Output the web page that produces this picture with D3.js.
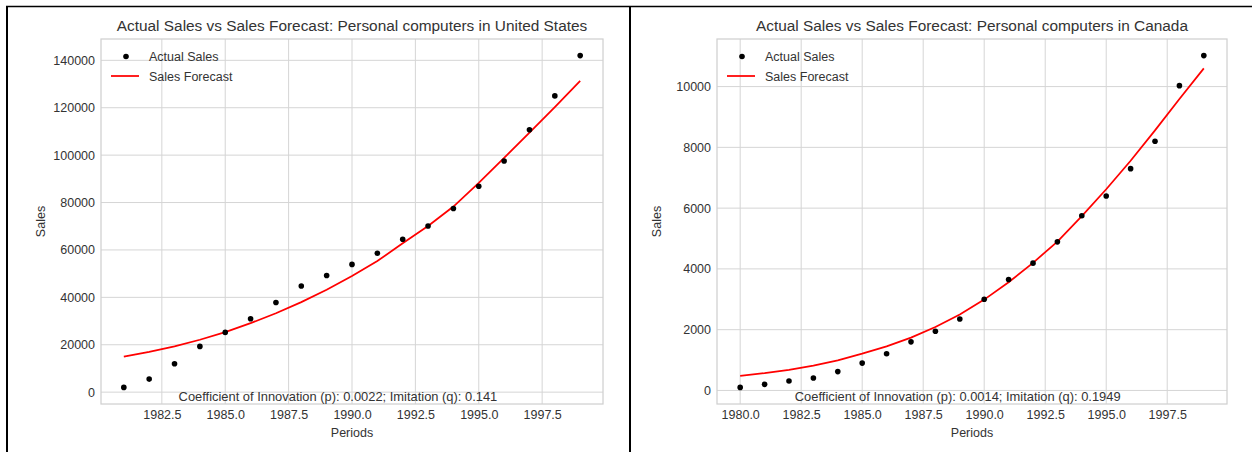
<!DOCTYPE html>
<html>
<head>
<meta charset="utf-8">
<script src="https://cdn.jsdelivr.net/npm/d3@7"></script>
<style>
  html, body { margin: 0; padding: 0; background: #fff; }
  svg { display: block; }
  text { font-family: "Liberation Sans", Arial, Helvetica, sans-serif; fill: #333; }
</style>
</head>
<body>
<svg id="chart" width="1252" height="452"></svg>
<script>
// United States: yearly personal computer sales and Bass model forecast
const usYears = [1981, 1982, 1983, 1984, 1985, 1986, 1987, 1988, 1989, 1990,
                 1991, 1992, 1993, 1994, 1995, 1996, 1997, 1998, 1999];
const usActual = [2000, 5500, 12000, 19300, 25200, 31000, 37800, 44800, 49200, 53900,
                  58600, 64500, 70100, 77500, 86900, 97500, 110700, 125000, 142000];
const usForecast = [15000, 17000, 19300, 22100, 25300, 29100, 33300, 38000, 43200, 49000,
                    55300, 62800, 70100, 78300, 88300, 98800, 109500, 120300, 131300];
const usTicksY = [0, 20000, 40000, 60000, 80000, 100000, 120000, 140000];
const usTicksX = [1982.5, 1985.0, 1987.5, 1990.0, 1992.5, 1995.0, 1997.5];

// Canada: yearly personal computer sales and Bass model forecast
const caYears = [1980, 1981, 1982, 1983, 1984, 1985, 1986, 1987, 1988, 1989,
                 1990, 1991, 1992, 1993, 1994, 1995, 1996, 1997, 1998, 1999];
const caActual = [100, 200, 310, 410, 620, 900, 1210, 1600, 1950, 2350,
                  3000, 3650, 4190, 4890, 5750, 6400, 7300, 8200, 10030, 11020];
const caForecast = [480, 570, 680, 820, 990, 1210, 1450, 1740, 2090, 2500,
                    2990, 3560, 4200, 4900, 5740, 6620, 7560, 8560, 9590, 10600];
const caTicksY = [0, 2000, 4000, 6000, 8000, 10000];
const caTicksX = [1980.0, 1982.5, 1985.0, 1987.5, 1990.0, 1992.5, 1995.0, 1997.5];

const legendLabels = ["Actual Sales", "Sales Forecast"];

const svg = d3.select("#chart");

// cell borders around the two panels
const border = svg.append("g").attr("stroke", "#000").attr("fill", "none");
border.append("line").attr("x1", 6).attr("x2", 1252).attr("y1", 6.5).attr("y2", 6.5).attr("stroke-width", 1.5);
border.append("line").attr("x1", 7).attr("x2", 7).attr("y1", 6).attr("y2", 452).attr("stroke-width", 2);
border.append("line").attr("x1", 630).attr("x2", 630).attr("y1", 6).attr("y2", 452).attr("stroke-width", 2);

function padded(values, frac) {
  const [lo, hi] = d3.extent(values);
  const p = (hi - lo) * frac;
  return [lo - p, hi + p];
}

function drawPanel(opts) {
  const { left, right, top, bottom, years, actual, forecast, ticksX, ticksY, title, note } = opts;
  const g = svg.append("g");
  const w = right - left, h = bottom - top;

  const x = d3.scaleLinear().domain(padded(years, 0.05)).range([left, right]);
  const y = d3.scaleLinear().domain(padded(actual.concat(forecast), 0.05)).range([bottom, top]);

  // grid
  const grid = g.append("g").attr("stroke", "#d5d5d5").attr("stroke-width", 1);
  grid.selectAll("line.gx").data(ticksX).join("line").attr("class", "gx")
    .attr("x1", d => x(d)).attr("x2", d => x(d)).attr("y1", top).attr("y2", bottom);
  grid.selectAll("line.gy").data(ticksY).join("line").attr("class", "gy")
    .attr("x1", left).attr("x2", right).attr("y1", d => y(d)).attr("y2", d => y(d));

  // frame
  g.append("rect").attr("x", left).attr("y", top).attr("width", w).attr("height", h)
    .attr("fill", "none").attr("stroke", "#d0d0d0").attr("stroke-width", 1.25);

  // axes
  const ax = g.append("g").attr("transform", `translate(0,${bottom})`)
    .call(d3.axisBottom(x).tickValues(ticksX).tickFormat(d3.format(".1f")).tickSize(0).tickPadding(6));
  const ay = g.append("g").attr("transform", `translate(${left},0)`)
    .call(d3.axisLeft(y).tickValues(ticksY).tickFormat(d3.format("d")).tickSize(0).tickPadding(6));
  [ax, ay].forEach(a => {
    a.select(".domain").remove();
    a.selectAll("text").attr("font-size", 12.5).attr("fill", "#333")
      .attr("font-family", '"Liberation Sans", Arial, sans-serif');
  });

  // forecast line
  const line = d3.line().x((d, i) => x(years[i])).y(d => y(d));
  g.append("path").datum(forecast).attr("d", line)
    .attr("fill", "none").attr("stroke", "#ff0000").attr("stroke-width", 1.75);

  // actual points
  g.append("g").selectAll("circle").data(actual).join("circle")
    .attr("cx", (d, i) => x(years[i])).attr("cy", d => y(d)).attr("r", 2.8).attr("fill", "#000");

  // note
  g.append("text").attr("x", left + w * 0.472).attr("y", 401)
    .attr("text-anchor", "middle").attr("font-size", 12.9).text(note);

  // title and axis labels
  g.append("text").attr("x", left + w / 2).attr("y", 31).attr("text-anchor", "middle")
    .attr("font-size", 15.4).text(title);
  g.append("text").attr("x", left + w / 2).attr("y", 437).attr("text-anchor", "middle")
    .attr("font-size", 12.5).text("Periods");
  g.append("text").attr("transform", `translate(${left - 56},${top + h / 2}) rotate(-90)`)
    .attr("text-anchor", "middle").attr("font-size", 12.5).text("Sales");

  // legend
  const lg = g.append("g");
  lg.append("circle").attr("cx", left + 25).attr("cy", 56.5).attr("r", 2.8).attr("fill", "#000");
  lg.append("line").attr("x1", left + 10).attr("x2", left + 38).attr("y1", 76).attr("y2", 76)
    .attr("stroke", "#ff0000").attr("stroke-width", 1.75);
  lg.selectAll("text").data(legendLabels).join("text")
    .attr("x", left + 48).attr("y", (d, i) => 61 + i * 19.5)
    .attr("font-size", 12.5).text(d => d);
}

drawPanel({
  left: 101, right: 603, top: 39, bottom: 404,
  years: usYears, actual: usActual, forecast: usForecast,
  ticksX: usTicksX, ticksY: usTicksY,
  title: "Actual Sales vs Sales Forecast: Personal computers in United States",
  note: "Coefficient of Innovation (p): 0.0022; Imitation (q): 0.141"
});

drawPanel({
  left: 717, right: 1227, top: 39, bottom: 404,
  years: caYears, actual: caActual, forecast: caForecast,
  ticksX: caTicksX, ticksY: caTicksY,
  title: "Actual Sales vs Sales Forecast: Personal computers in Canada",
  note: "Coefficient of Innovation (p): 0.0014; Imitation (q): 0.1949"
});
</script>
</body>
</html>
